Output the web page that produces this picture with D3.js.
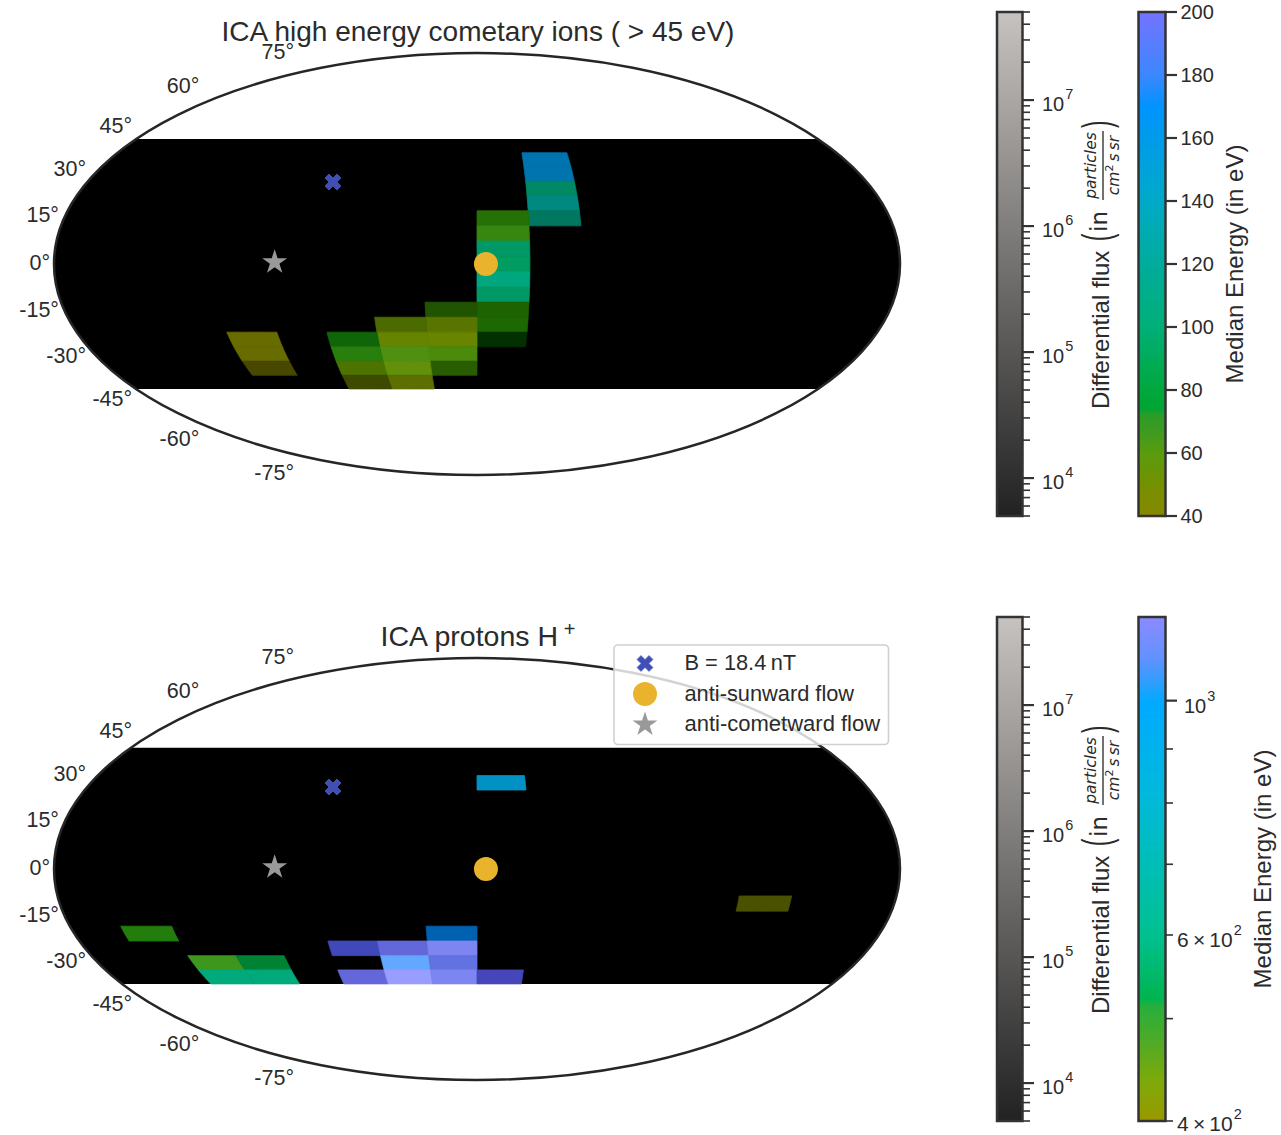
<!DOCTYPE html>
<html><head><meta charset="utf-8">
<script src="https://cdn.jsdelivr.net/npm/d3@7/dist/d3.min.js"></script>
<style>html,body{margin:0;padding:0;background:#fff}svg{display:block}text{font-family:"Liberation Sans",Arial,sans-serif;fill:#2b2b2b}</style>
</head><body><svg id="c" width="1281" height="1135"></svg>
<script>
// ---- data ----
const latTicks=[75,60,45,30,15,0,-15,-30,-45,-60,-75];
const rowStep=90/17, lonStep=22.5;

const topLat0=-45, topRows=17;
const topLon=[22.5,22.5,22.5,22.5,22.5, 0,0,0,0,0,0,0,0,0, -22.5,-22.5,-22.5,-22.5,-22.5, -45,-45,-45,-45,-45, -67.5,-67.5,-67.5,-67.5, -112.5,-112.5,-112.5];
const topRow=[15,14,13,12,11, 11,10,9,8,7,6,5,4,3, 5,4,3,2,1, 4,3,2,1,0, 3,2,1,0, 3,2,1];
const topEnergy=[150,150,111,123,118, 63,64,101,98,104,101,62,64,68, 57,48,50,60,57, 50,50,61,56,46, 70,66,52,44, 41,41,40];
const topFlux=[7.9e6,7.9e6,7.2e6,7.9e6,2.9e6, 4.2e6,1.4e7,1.6e7,1.8e7,3.5e7,1.6e7,1.8e6,2.6e6,8.7e4, 7.9e5,8.7e6,2.4e7,1.8e7,1.5e6, 4.6e6,2.2e7,2.6e7,3.2e7,7.2e6, 2.2e6,9.5e6,7.2e6,6.6e5, 6.6e6,6.6e6,6.6e5];

const botLat0=-41.1, botRows=16;
const botLon=[-157.5,-22.5, -67.5,-45,-22.5, -135,-112.5,-45,-22.5, -135,-112.5,-67.5,-45,-22.5,0, 0, 112.5];
const botRow=[3,3, 2,2,2, 1,1,1,1, 0,0,0,0,0,0, 13, 5];
const botEnergy=[478,958, 1177,1187,1177, 478,555,1075,1160, 600,600,1190,1190,1177,1200, 862, 405];
const botFlux=[4.2e6,3.5e6, 4.2e6,1.3e7,2.9e7, 1.7e7,3.2e6,5e7,1.7e7, 1.7e7,1.7e7,1.3e7,5e7,2.9e7,4.2e6, 1.3e7, 6e5];

// B-field, anti-sunward, anti-cometward directions: [lon, lat]
const dirB=[-66.5,28.8], dirSun=[3.8,0], dirComet=[-86.1,0.6];

const fluxDomain=[5e3,5e7];
const fluxMajor=[1e4,1e5,1e6,1e7];
const topEnergyDomain=[40,200];
const topEnergyTicks=[40,60,80,100,120,140,160,180,200];
const botEnergyDomain=[400,1200];
const botEnergyMinor=[500,700,800,900];
const topStopE=[40,50,60,66,72,74,80,100,120,140,160,170,180,200];
const topStopC=["#888800","#739100","#5a9b0f","#419b1e","#2d9b28","#00a532","#00a83c","#00af78","#00ac9b","#00aac8","#009beb","#0094ff","#3c87ff","#7373ff"];
const botStopE=[400,437,470,513,522,600,693,816,996,1044,1100,1200];
const botStopC=["#999900","#7daa0a","#55aa22","#28af3c","#00b450","#00c091","#00beb4","#00b9dc","#00aaff","#329dff","#6491ff","#8a8aff"];

// ---- helpers ----
const svg=d3.select("#c");
const defs=svg.append("defs");
const CX=477,RX=423,RY=211;
const fluxScale=d3.scaleLog().domain(fluxDomain).range([0,1]);
const topCmap=d3.scaleLinear().domain(topStopE).range(topStopC).interpolate(d3.interpolateRgb);
const botCmap=d3.scaleLog().domain(botStopE).range(botStopC).interpolate(d3.interpolateRgb);
const grayBar=d3.scaleLog().domain(fluxDomain).range(["#222222","#c6c2bf"]).interpolate(d3.interpolateRgb);
function moll(lon,lat){
  const phi=lat*Math.PI/180;let t=phi;
  if(Math.abs(lat)<90){for(let i=0;i<30;i++){t-=(2*t+Math.sin(2*t)-Math.PI*Math.sin(phi))/(2+2*Math.cos(2*t));}}
  else t=Math.sign(lat)*Math.PI/2;
  return [lon/180*Math.cos(t),Math.sin(t)];
}
function cellColor(cmap,E,flux){
  const c=d3.rgb(cmap(E)),m=Math.max(c.r,c.g,c.b),v=fluxScale(flux);
  const g=Math.max(0.8,1+(0.93-v)*3);
  const f=x=>x<=0?0:v*m*Math.pow(x/m,g);
  return d3.rgb(f(c.r),f(c.g),f(c.b)).formatHex();
}
function cellPts(lon0,lon1,lat0,lat1){
  const n=8,p=[];
  for(let i=0;i<=n;i++)p.push([lon0+(lon1-lon0)*i/n,lat1]);
  for(let i=1;i<=n;i++)p.push([lon1,lat1+(lat0-lat1)*i/n]);
  for(let i=1;i<=n;i++)p.push([lon1+(lon0-lon1)*i/n,lat0]);
  for(let i=1;i<n;i++)p.push([lon0,lat0+(lat1-lat0)*i/n]);
  return p;
}
const xMarker=[[-1,-2],[0,-1],[1,-2],[2,-1],[1,0],[2,1],[1,2],[0,1],[-1,2],[-2,1],[-1,0],[-2,-1]];
const latLabelDy=d3.scaleLinear().domain([-75,75]).range([18,-21]);
function drawMarker(g,kind,x,y){
  if(kind==="x"){
    const l=d3.line().x(d=>x+d[0]*4).y(d=>y+d[1]*4).curve(d3.curveLinearClosed);
    g.append("path").attr("d",l(xMarker)).attr("fill","#3f4fb5").attr("stroke","#5c6bc6").attr("stroke-width",0.6);
  } else if(kind==="o"){
    g.append("circle").attr("cx",x).attr("cy",y).attr("r",12).attr("fill","#e9b32e");
  } else {
    g.append("path").attr("d",d3.symbol(d3.symbolStar,192)()).attr("transform",`translate(${x},${y})`).attr("fill","#999999");
  }
}
function panel(id,cy,lat0,nRows,lons,rows,energies,fluxes,cmap){
  const g=svg.append("g");
  const sx=d3.scaleLinear().domain([-1,1]).range([CX-RX,CX+RX]);
  const sy=d3.scaleLinear().domain([-1,1]).range([cy+RY,cy-RY]);
  const P=(lon,lat)=>{const m=moll(lon,lat);return [sx(m[0]),sy(m[1])];};
  const line=d3.line().x(d=>P(d[0],d[1])[0]).y(d=>P(d[0],d[1])[1]).curve(d3.curveLinearClosed);
  defs.append("clipPath").attr("id",id).append("ellipse").attr("cx",CX).attr("cy",cy).attr("rx",RX).attr("ry",RY);
  const clip=g.append("g").attr("clip-path",`url(#${id})`);
  const latTop=lat0+nRows*rowStep;
  clip.append("path").attr("d",line(cellPts(-220,220,lat0,latTop))).attr("fill","#000");
  lons.forEach((l,i)=>{
    const c=cellColor(cmap,energies[i],fluxes[i]);
    clip.append("path").attr("d",line(cellPts(l,l+lonStep,lat0+rows[i]*rowStep,lat0+(rows[i]+1)*rowStep))).attr("fill",c).attr("stroke",c).attr("stroke-width",0.8);
  });
  g.append("ellipse").attr("cx",CX).attr("cy",cy).attr("rx",RX).attr("ry",RY).attr("fill","none").attr("stroke","#262626").attr("stroke-width",2.5);
  latTicks.forEach(t=>{
    const p=P(-180,t);
    g.append("text").attr("x",p[0]-4).attr("y",p[1]+latLabelDy(t)+7).attr("text-anchor","end").attr("font-size",21.5).text(t+"°");
  });
  let p=P(dirB[0],dirB[1]);drawMarker(g,"x",p[0],p[1]);
  p=P(dirSun[0],dirSun[1]);drawMarker(g,"o",p[0],p[1]);
  p=P(dirComet[0],dirComet[1]);drawMarker(g,"s",p[0],p[1]);
  return g;
}
function barFill(g,x,w,y,color){
  const r=y.range();
  for(let py=r[1];py<r[0];py+=1){
    g.append("rect").attr("x",x).attr("y",py).attr("width",w).attr("height",1.5).attr("fill",color(y.invert(py+0.5)));
  }
}
function supText(g,x,yBase,main,sup,fs){
  const t=g.append("text").attr("x",x).attr("y",yBase).attr("font-size",fs||20).text(main);
  t.append("tspan").attr("dy",-12).attr("dx",1).attr("font-size",14.5).text(sup);
}
function fluxBar(g,y0,y1){
  const y=d3.scaleLog().domain(fluxDomain).range([y1,y0]);
  const x=997,w=25.5;
  barFill(g,x,w,y,grayBar);
  g.append("rect").attr("x",x).attr("y",y0).attr("width",w).attr("height",y1-y0).attr("fill","none").attr("stroke","#333").attr("stroke-width",2.5);
  const minors=[];fluxMajor.forEach(d=>[2,3,4,5,6,7,8,9].forEach(k=>minors.push(k*d)));[5e3,6e3,7e3,8e3,9e3].forEach(v=>minors.push(v));
  minors.filter(v=>v>=fluxDomain[0]&&v<=fluxDomain[1]).forEach(v=>{
    g.append("line").attr("x1",x+w).attr("x2",x+w+7.5).attr("y1",y(v)).attr("y2",y(v)).attr("stroke","#333").attr("stroke-width",1.6);
  });
  fluxMajor.forEach((v,i)=>{
    g.append("line").attr("x1",x+w).attr("x2",x+w+11.5).attr("y1",y(v)).attr("y2",y(v)).attr("stroke","#333").attr("stroke-width",2.2);
    supText(g,1042,y(v)+11,"10",String(4+i));
  });
  const off=y0-12;
  const rot=(x,yy,s,fs)=>g.append("text").attr("transform",`translate(${x},${yy+off}) rotate(-90)`).attr("font-size",fs).text(s);
  rot(1109,409,"Differential flux",24);
  g.append("text").attr("transform",`translate(1110.5,${241+off}) rotate(-90) scale(1,1.85)`).attr("font-size",22).text("(");
  rot(1107,232,"in",23).style("font-family","'DejaVu Sans'");
  rot(1095.5,165.5,"particles",15.5).attr("text-anchor","middle").style("font-family","'DejaVu Sans'").attr("font-style","italic");
  g.append("line").attr("x1",1103).attr("x2",1103).attr("y1",200+off).attr("y2",131+off).attr("stroke","#262626").attr("stroke-width",1.3);
  const t=rot(1119,165.5,"cm",15.5).attr("text-anchor","middle").style("font-family","'DejaVu Sans'").attr("font-style","italic");
  t.append("tspan").attr("dy",-6).attr("font-size",11).attr("font-style","normal").text("2");
  t.append("tspan").attr("dy",6).text("\u2009s\u2009sr");
  g.append("text").attr("transform",`translate(1110.5,${128+off}) rotate(-90) scale(1,1.85)`).attr("font-size",22).text(")");
}
panel("clipTop",264,topLat0,topRows,topLon,topRow,topEnergy,topFlux,topCmap);
panel("clipBot",869,botLat0,botRows,botLon,botRow,botEnergy,botFlux,botCmap);

// titles
svg.append("text").attr("x",478).attr("y",41).attr("text-anchor","middle").attr("font-size",28).text("ICA high energy cometary ions ( > 45 eV)");
const bt=svg.append("text").attr("x",478).attr("y",645.5).attr("text-anchor","middle").attr("font-size",28.5).text("ICA protons H\u2009");
bt.append("tspan").attr("dy",-10).attr("font-size",20).text("+");

// colour bars
const gc=svg.append("g");
fluxBar(gc,12,516);
fluxBar(gc,617,1121);
(function(){
  const x=1138.5,w=27,y=d3.scaleLinear().domain(topEnergyDomain).range([516,12]);
  barFill(gc,x,w,y,topCmap);
  gc.append("rect").attr("x",x).attr("y",12).attr("width",w).attr("height",504).attr("fill","none").attr("stroke","#333").attr("stroke-width",2.5);
  topEnergyTicks.forEach(v=>{
    gc.append("line").attr("x1",x+w).attr("x2",x+w+11.5).attr("y1",y(v)).attr("y2",y(v)).attr("stroke","#333").attr("stroke-width",2.2);
    gc.append("text").attr("x",1180.5).attr("y",y(v)+7).attr("font-size",20).text(v);
  });
  gc.append("text").attr("transform","translate(1242.5,264) rotate(-90)").attr("text-anchor","middle").attr("font-size",24).text("Median Energy (in eV)");
})();
(function(){
  const x=1138.5,w=27,y=d3.scaleLog().domain(botEnergyDomain).range([1121,617]);
  barFill(gc,x,w,y,botCmap);
  gc.append("rect").attr("x",x).attr("y",617).attr("width",w).attr("height",504).attr("fill","none").attr("stroke","#333").attr("stroke-width",2.5);
  gc.append("line").attr("x1",x+w).attr("x2",x+w+11.5).attr("y1",y(1000)).attr("y2",y(1000)).attr("stroke","#333").attr("stroke-width",2.2);
  botEnergyMinor.concat([400,600]).forEach(v=>{
    gc.append("line").attr("x1",x+w).attr("x2",x+w+7.5).attr("y1",y(v)).attr("y2",y(v)).attr("stroke","#333").attr("stroke-width",1.6);
  });
  supText(gc,1184,y(1000)+12,"10","3");
  supText(gc,1177,y(600)+12,"6\u2009×\u200910","2",21);
  supText(gc,1177,y(400)+9.5,"4\u2009×\u200910","2",21);
  gc.append("text").attr("transform","translate(1270.5,869) rotate(-90)").attr("text-anchor","middle").attr("font-size",24).text("Median Energy (in eV)");
})();

// legend
const lg=svg.append("g");
lg.append("rect").attr("x",614).attr("y",645).attr("width",274.5).attr("height",99.5).attr("rx",4).attr("fill","#fff").attr("fill-opacity",0.8).attr("stroke","#d0d0d0").attr("stroke-width",1.6);
drawMarker(lg,"x",645,663.5);
drawMarker(lg,"o",645,694);
drawMarker(lg,"s",645,724.5);
lg.append("text").attr("x",684.5).attr("y",670).attr("font-size",21.8).text("B = 18.4\u2009nT");
lg.append("text").attr("x",684.5).attr("y",700.5).attr("font-size",21.8).text("anti-sunward flow");
lg.append("text").attr("x",684.5).attr("y",731).attr("font-size",22).text("anti-cometward flow");
</script></body></html>
